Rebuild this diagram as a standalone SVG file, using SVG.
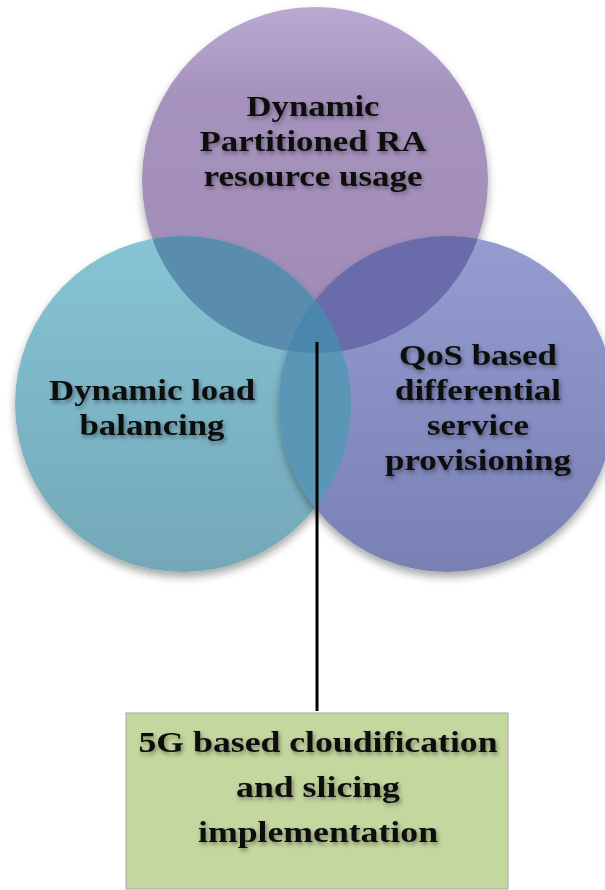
<svg xmlns="http://www.w3.org/2000/svg" width="605" height="890" viewBox="0 0 605 890">
  <defs>
    <filter id="sh" x="-20%" y="-20%" width="140%" height="150%">
      <feDropShadow dx="0" dy="5" stdDeviation="4" flood-color="#000" flood-opacity="0.35"/>
    </filter>
    <filter id="tsh" x="-10%" y="-30%" width="120%" height="160%">
      <feDropShadow dx="1.5" dy="2.5" stdDeviation="2" flood-color="#000" flood-opacity="0.4"/>
    </filter>
    <linearGradient id="gTop" x1="0" y1="0" x2="0" y2="1">
      <stop offset="0" stop-color="#B9AAD2"/>
      <stop offset="0.25" stop-color="#A693BD"/>
      <stop offset="1" stop-color="#A08BB6"/>
    </linearGradient>
    <linearGradient id="gLeft" x1="0" y1="0" x2="0" y2="1">
      <stop offset="0" stop-color="#86C4D4"/>
      <stop offset="1" stop-color="#73A8B8"/>
    </linearGradient>
    <linearGradient id="gRight" x1="0" y1="0" x2="0" y2="1">
      <stop offset="0" stop-color="#949CD0"/>
      <stop offset="1" stop-color="#7880B4"/>
    </linearGradient>
    <clipPath id="cTop"><circle cx="315" cy="180" r="173"/></clipPath>
    <clipPath id="cLeft"><circle cx="183" cy="404" r="168"/></clipPath>
    <style>
      .lbl { font-family: "Liberation Serif", "DejaVu Serif", serif; font-weight: bold; font-size: 29px; fill: #111; text-anchor: middle; }
      .box { font-size: 30px; }
    </style>
  </defs>

  <g id="node-top">
    <circle cx="315" cy="180" r="173" fill="url(#gTop)" filter="url(#sh)"/>
  </g>
  <g id="node-left">
    <circle cx="183" cy="404" r="168" fill="url(#gLeft)" filter="url(#sh)"/>
  </g>
  <g id="node-right">
    <circle cx="447" cy="404" r="168" fill="url(#gRight)" filter="url(#sh)"/>
  </g>
  <g id="overlaps">
    <g clip-path="url(#cTop)">
      <circle cx="183" cy="404" r="168" fill="#5A8CAD"/>
      <circle cx="447" cy="404" r="168" fill="#6A6BAA"/>
    </g>
    <g clip-path="url(#cLeft)">
      <circle cx="447" cy="404" r="168" fill="#5A97B7"/>
      <g clip-path="url(#cTop)">
        <circle cx="447" cy="404" r="168" fill="#4B86AD"/>
      </g>
    </g>
  </g>

  <g id="labels" filter="url(#tsh)">
    <text class="lbl" x="313" y="116" textLength="133" lengthAdjust="spacingAndGlyphs">Dynamic</text>
    <text class="lbl" x="313" y="151" textLength="227" lengthAdjust="spacingAndGlyphs">Partitioned RA</text>
    <text class="lbl" x="313" y="186" textLength="219" lengthAdjust="spacingAndGlyphs">resource usage</text>
    <text class="lbl" x="152" y="400" textLength="206" lengthAdjust="spacingAndGlyphs">Dynamic load</text>
    <text class="lbl" x="152" y="435" textLength="145" lengthAdjust="spacingAndGlyphs">balancing</text>
    <text class="lbl" x="478" y="365" textLength="158" lengthAdjust="spacingAndGlyphs">QoS based</text>
    <text class="lbl" x="478" y="400" textLength="166" lengthAdjust="spacingAndGlyphs">differential</text>
    <text class="lbl" x="478" y="435" textLength="102" lengthAdjust="spacingAndGlyphs">service</text>
    <text class="lbl" x="478" y="470" textLength="186" lengthAdjust="spacingAndGlyphs">provisioning</text>
  </g>

  <g id="connectors">
    <line x1="317" y1="342" x2="317" y2="711" stroke="#000" stroke-width="3"/>
  </g>

  <g id="node-box">
    <rect x="126" y="713" width="382" height="176" fill="#C4D79F" stroke="#A6A6A6" stroke-width="1"/>
    <g filter="url(#tsh)">
      <text class="lbl box" x="318" y="752" textLength="359" lengthAdjust="spacingAndGlyphs">5G based cloudification</text>
      <text class="lbl box" x="318" y="797" textLength="164" lengthAdjust="spacingAndGlyphs">and slicing</text>
      <text class="lbl box" x="318" y="842" textLength="240" lengthAdjust="spacingAndGlyphs">implementation</text>
    </g>
  </g>
</svg>
